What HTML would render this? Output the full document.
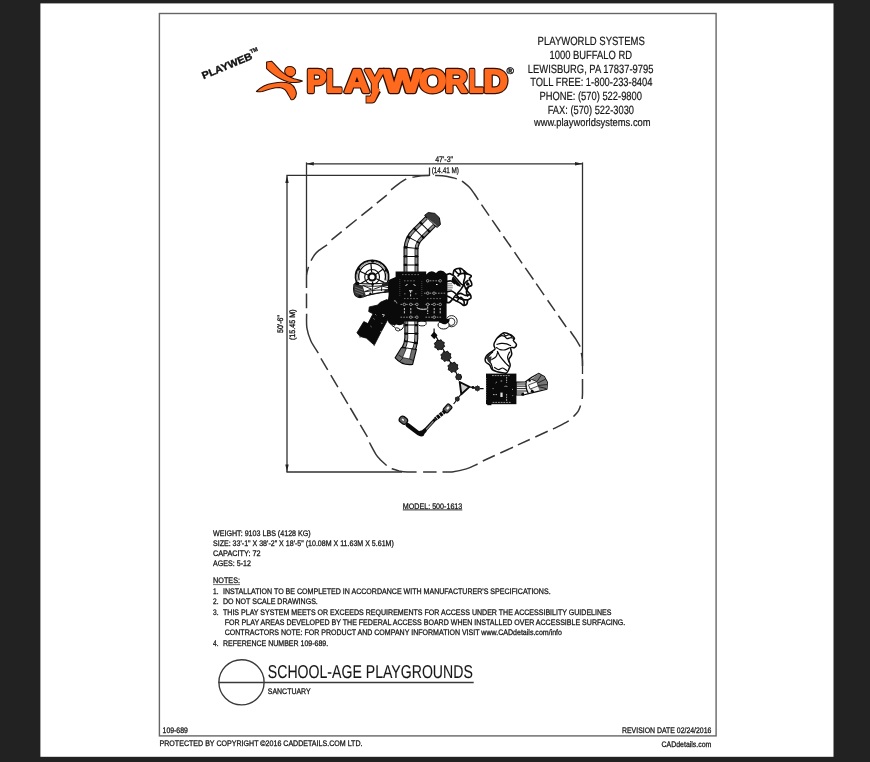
<!DOCTYPE html>
<html lang="en">
<head>
<meta charset="utf-8">
<title>Playworld Systems - School-Age Playgrounds - Sanctuary</title>
<style>
html,body{margin:0;padding:0;background:#222222;}
body{width:870px;height:762px;overflow:hidden;position:relative;}
svg{position:absolute;left:0;top:0;width:870px;height:762px;font-family:"Liberation Sans",sans-serif;text-rendering:geometricPrecision;will-change:transform;}
</style>
</head>
<body>
<svg width="870" height="762" viewBox="0 0 870 762" role="img" aria-label="Playworld Systems playground plan drawing">
<rect x="40.4" y="3.4" width="793.1" height="753.4" fill="#ffffff"/>
<rect x="159.4" y="13.5" width="556.7" height="722.4" fill="none" stroke="#666" stroke-width="1.4"/>
<text x="537.6" y="44.9" font-size="12" font-weight="normal" text-anchor="start" fill="#161616" stroke="#161616" stroke-width="0.2" textLength="107.2" lengthAdjust="spacingAndGlyphs">PLAYWORLD SYSTEMS</text>
<text x="549.5" y="59.0" font-size="12" font-weight="normal" text-anchor="start" fill="#161616" stroke="#161616" stroke-width="0.2" textLength="82.5" lengthAdjust="spacingAndGlyphs">1000 BUFFALO RD</text>
<text x="527.8" y="72.8" font-size="12" font-weight="normal" text-anchor="start" fill="#161616" stroke="#161616" stroke-width="0.2" textLength="125.6" lengthAdjust="spacingAndGlyphs">LEWISBURG, PA 17837-9795</text>
<text x="530.2" y="86.3" font-size="12" font-weight="normal" text-anchor="start" fill="#161616" stroke="#161616" stroke-width="0.2" textLength="122.3" lengthAdjust="spacingAndGlyphs">TOLL FREE: 1-800-233-8404</text>
<text x="539.4" y="99.5" font-size="12" font-weight="normal" text-anchor="start" fill="#161616" stroke="#161616" stroke-width="0.2" textLength="102.6" lengthAdjust="spacingAndGlyphs">PHONE: (570) 522-9800</text>
<text x="547.7" y="114.2" font-size="12" font-weight="normal" text-anchor="start" fill="#161616" stroke="#161616" stroke-width="0.2" textLength="86.3" lengthAdjust="spacingAndGlyphs">FAX: (570) 522-3030</text>
<text x="533.9" y="126.3" font-size="11" font-weight="normal" text-anchor="start" fill="#161616" stroke="#161616" stroke-width="0.2" textLength="116.7" lengthAdjust="spacingAndGlyphs">www.playworldsystems.com</text>
<g id="logo">
<text transform="translate(203.4,79.2) rotate(-22.4)" font-size="10.1" font-weight="bold" fill="#111" stroke="#111" stroke-width="0.35" textLength="53.6" lengthAdjust="spacingAndGlyphs">PLAYWEB</text>
<text transform="translate(251.0,53.6) rotate(-22.4)" font-size="5.6" font-weight="bold" fill="#111" stroke="#111" stroke-width="0.3" textLength="7.8" lengthAdjust="spacingAndGlyphs">TM</text>
<g fill="#ff6a1f" stroke="#2e1003" stroke-width="1.05" stroke-linejoin="round">
<path d="M266.6 61.9 L271.6 61.2 C275 64.5 278 68 280.6 70.6 C283.5 73.5 287 76 294.1 78.7 C297 79.6 300 80.3 302.4 81 C300.5 82.2 298 82.4 296 82.4 C293 82.6 291 82.4 288.6 81.9 C285.6 81.2 282.8 80.2 280.3 78.7 C277.6 77.2 275.2 75.8 273 74.1 C270.4 72.2 268.4 70.4 266.6 68.6 Z"/>
<path d="M256.4 91.5 C258.6 89.4 261 87.4 263.8 86 C266.6 84.7 269.8 83.8 273 83.3 C275.8 82.8 278.6 82.3 281.3 82.3 C284.6 82.3 287.8 82.6 290.5 83.7 C292.6 84.9 294.2 86.8 295 88.8 C295.8 90.3 296.3 91.9 296.4 93.4 C296.3 95.5 295.4 97.4 294.1 98.9 C293.2 99.6 291.8 99.8 290.9 99.4 C290.3 97.9 289.5 96.5 288.6 95.2 C287.6 93.2 286.4 91.2 284.9 89.7 C283.4 88.4 281.5 87.6 279.4 87.4 C276.6 87.4 273.8 88 271.1 88.8 C268 89.6 265 90.6 262 91.5 C260.2 91.9 258.2 91.9 256.4 91.5 Z"/>
<ellipse cx="290.2" cy="71.5" rx="5.6" ry="5" transform="rotate(20 290.2 71.5)"/>
</g>
<text y="92.1" font-size="32.0" font-weight="bold" fill="#2e1003" stroke="#2e1003" stroke-width="4.3" stroke-linejoin="round"><tspan x="306.84" textLength="19.57" lengthAdjust="spacingAndGlyphs">P</tspan><tspan x="326.31" textLength="15.47" lengthAdjust="spacingAndGlyphs">L</tspan><tspan x="344.54" textLength="24.97" lengthAdjust="spacingAndGlyphs">A</tspan><tspan x="364.90" textLength="19.57" lengthAdjust="spacingAndGlyphs">Y</tspan><tspan x="383.36" textLength="38.08" lengthAdjust="spacingAndGlyphs">W</tspan><tspan x="418.96" textLength="27.31" lengthAdjust="spacingAndGlyphs">O</tspan><tspan x="445.11" textLength="22.53" lengthAdjust="spacingAndGlyphs">R</tspan><tspan x="468.81" textLength="14.52" lengthAdjust="spacingAndGlyphs">L</tspan><tspan x="483.55" textLength="24.26" lengthAdjust="spacingAndGlyphs">D</tspan></text>
<path d="M377.4 90 L372.2 99.6 L365.6 99.6" fill="none" stroke="#2e1003" stroke-width="8" stroke-linejoin="round" stroke-linecap="butt"/>
<text y="92.1" font-size="32.0" font-weight="bold" fill="#ff6a1f" stroke="#ff6a1f" stroke-width="2.0" stroke-linejoin="round"><tspan x="306.84" textLength="19.57" lengthAdjust="spacingAndGlyphs">P</tspan><tspan x="326.31" textLength="15.47" lengthAdjust="spacingAndGlyphs">L</tspan><tspan x="344.54" textLength="24.97" lengthAdjust="spacingAndGlyphs">A</tspan><tspan x="364.90" textLength="19.57" lengthAdjust="spacingAndGlyphs">Y</tspan><tspan x="383.36" textLength="38.08" lengthAdjust="spacingAndGlyphs">W</tspan><tspan x="418.96" textLength="27.31" lengthAdjust="spacingAndGlyphs">O</tspan><tspan x="445.11" textLength="22.53" lengthAdjust="spacingAndGlyphs">R</tspan><tspan x="468.81" textLength="14.52" lengthAdjust="spacingAndGlyphs">L</tspan><tspan x="483.55" textLength="24.26" lengthAdjust="spacingAndGlyphs">D</tspan></text>
<path d="M377.4 88 L372.2 99.6 L366.4 99.6" fill="none" stroke="#ff6a1f" stroke-width="6" stroke-linejoin="round" stroke-linecap="butt"/>
<text x="506.4" y="73.6" font-size="9.5" font-weight="bold" fill="#111" stroke="#111" stroke-width="0.35" textLength="7.4" lengthAdjust="spacingAndGlyphs">®</text>
</g>
<g stroke="#303030" stroke-width="1.3" fill="none">
<path d="M306.2 163.8 H582.6"/>
<path d="M306.5 162.4 V275"/>
<path d="M582.5 162.4 V374"/>
<path d="M287 175.4 V472"/>
<path d="M286.4 175.4 H429.5 V167.6"/>
<path d="M286.4 472 H402"/>
</g>
<g fill="#222">
<path d="M306.4 163.8 l7.4 -1.7 v3.4 z"/>
<path d="M582.4 163.8 l-7.4 -1.7 v3.4 z"/>
<path d="M287 175.6 l-1.7 7.4 h3.4 z"/>
<path d="M287 471.8 l-1.7 -7.4 h3.4 z"/>
</g>
<text x="435.2" y="162.1" font-size="8" font-weight="normal" text-anchor="start" fill="#161616" stroke="#161616" stroke-width="0.28" textLength="17.9" lengthAdjust="spacingAndGlyphs">47'-3"</text>
<text x="431.7" y="173.4" font-size="8" font-weight="normal" text-anchor="start" fill="#161616" stroke="#161616" stroke-width="0.28" textLength="27.3" lengthAdjust="spacingAndGlyphs">(14.41 M)</text>
<text transform="translate(283.4,333) rotate(-90)" font-size="8" fill="#161616" stroke="#161616" stroke-width="0.35" textLength="17.9" lengthAdjust="spacingAndGlyphs">50'-6"</text>
<text transform="translate(294.6,340) rotate(-90)" font-size="8" fill="#161616" stroke="#161616" stroke-width="0.35" textLength="30.5" lengthAdjust="spacingAndGlyphs">(15.45 M)</text>
<path d="M306.5 288.0C306.5 286.7 306.5 282.3 306.5 280.0C306.5 277.7 306.4 276.2 306.7 274.0C307.0 271.8 308.2 268.1 308.5 266.9M311.0 260.7C311.6 259.7 313.3 256.5 314.6 254.8C315.9 253.1 316.8 252.1 318.9 250.4C321.0 248.8 325.7 245.8 327.1 244.9M331.5 239.9L341.7 231.6M346.0 228.1L356.7 219.5M361.4 215.7L372.4 206.8M376.8 203.2L386.8 195.1M391.0 189.9C392.3 188.8 396.5 185.4 399.0 183.6C401.5 181.8 405.0 179.7 406.2 178.9M412.5 177.3C414.0 177.0 418.6 176.0 421.4 175.7C424.2 175.4 428.0 175.4 429.3 175.4M435.1 175.5C436.9 175.6 442.4 175.7 446.0 176.2C449.6 176.7 455.0 178.3 456.8 178.7M462.0 181.0C463.2 182.1 467.3 185.1 469.4 187.3C471.5 189.5 473.0 191.9 474.5 194.0C476.0 196.1 477.7 198.9 478.3 199.9M481.5 204.6L489.1 215.6M492.2 220.1L500.2 231.7M503.4 236.2L511.1 247.3M514.5 252.2L522.1 263.3M525.3 267.9L533.4 279.5M536.2 283.6L544.1 295.1M547.6 300.2L555.0 310.9M558.4 315.7L566.2 327.0M570.3 331.3C571.2 332.6 574.1 336.6 575.8 339.2C577.4 341.8 579.5 345.4 580.2 346.6M581.3 352.9C581.5 353.9 582.1 356.6 582.3 358.8C582.5 361.0 582.5 364.8 582.5 366.0M582.5 378.9C582.5 381.2 582.5 389.6 582.5 393.0C582.5 396.4 582.2 398.0 582.2 399.0M580.6 405.5C580.1 406.5 579.1 409.8 577.9 411.7C576.7 413.6 574.1 415.8 573.4 416.6M568.8 420.8C567.6 421.5 564.1 423.4 561.5 424.8C558.9 426.2 554.4 428.3 553.0 429.0M547.7 431.3L535.3 437.0M529.8 439.5L517.9 444.9M513.0 447.2L500.3 453.0M494.8 455.5L482.8 461.0M477.6 464.0C475.7 464.8 470.7 467.6 466.4 468.9C462.1 470.2 456.0 471.4 452.0 471.9C448.0 472.4 444.1 471.9 442.5 471.9M436.6 471.9L423.1 471.9M416.6 472.0C415.1 472.0 410.3 472.2 407.4 472.0C404.5 471.8 401.6 471.4 399.0 470.9C396.4 470.3 392.9 469.1 391.7 468.7M386.7 465.5C385.7 464.6 382.4 461.9 380.6 460.0C378.8 458.1 377.8 457.2 375.9 454.3C374.0 451.4 370.5 444.5 369.4 442.5M367.4 436.9L360.3 424.9M357.7 420.5L350.3 408.0M347.8 403.8L340.7 391.8M337.9 387.2L330.8 375.2M327.7 369.9L320.9 358.4M318.3 353.1C317.1 351.0 312.7 344.9 310.8 340.7C308.9 336.5 307.6 332.5 306.9 328.0C306.2 323.5 306.7 316.2 306.6 313.8M306.5 308.2L306.5 293.5" fill="none" stroke="#363636" stroke-width="1.5"/>
<g id="equip">
<path d="M411 272 L411 249 Q411.5 240 418 234 L431 221" fill="none" stroke="#0a0a0a" stroke-width="15" stroke-linecap="butt"/><path d="M411 272 L411 249 Q411.5 240 418 234 L431 221" fill="none" stroke="#8e8e8e" stroke-width="12.8" stroke-linecap="butt"/><path d="M411 272 L411 249 Q411.5 240 418 234 L431 221" fill="none" stroke="#0a0a0a" stroke-width="14" stroke-dasharray="2.2 6.3" stroke-dashoffset="2.5"/><path d="M411 272 L411 249 Q411.5 240 418 234 L431 221" fill="none" stroke="#0a0a0a" stroke-width="8.6" stroke-linecap="butt"/><path d="M411 272 L411 249 Q411.5 240 418 234 L431 221" fill="none" stroke="#ffffff" stroke-width="7.2" stroke-linecap="butt"/><path d="M411 272 L411 249 Q411.5 240 418 234 L431 221" fill="none" stroke="#0a0a0a" stroke-width="15" stroke-dasharray="1.0 7.5" stroke-dashoffset="1.9"/>
<path d="M424.6 215.4 L428.2 212.6 L434.8 213.4 L439.4 217.8 L440.4 224.6 L437 227.4 Z" fill="#3a3a3a" stroke="#0a0a0a" stroke-width="1"/>
<path d="M429 221 L437.5 226.5 M427 218 L436 225" stroke="#bbb" stroke-width="0.5" fill="none"/>
<path d="M411.3 321 L411.3 338 Q411 346 407 352 L403.5 358" fill="none" stroke="#0a0a0a" stroke-width="14" stroke-linecap="butt"/><path d="M411.3 321 L411.3 338 Q411 346 407 352 L403.5 358" fill="none" stroke="#8e8e8e" stroke-width="11.8" stroke-linecap="butt"/><path d="M411.3 321 L411.3 338 Q411 346 407 352 L403.5 358" fill="none" stroke="#0a0a0a" stroke-width="13" stroke-dasharray="2.2 6.3" stroke-dashoffset="5.5"/><path d="M411.3 321 L411.3 338 Q411 346 407 352 L403.5 358" fill="none" stroke="#0a0a0a" stroke-width="7.6" stroke-linecap="butt"/><path d="M411.3 321 L411.3 338 Q411 346 407 352 L403.5 358" fill="none" stroke="#ffffff" stroke-width="6.2" stroke-linecap="butt"/><path d="M411.3 321 L411.3 338 Q411 346 407 352 L403.5 358" fill="none" stroke="#0a0a0a" stroke-width="14" stroke-dasharray="1.0 7.5" stroke-dashoffset="4.9"/>
<path d="M401.5 347.5 L395.2 357.8 Q402 365.8 412.6 364.4 L416.4 349.5 Z" fill="#6e6e6e" stroke="#0a0a0a" stroke-width="1.1"/>
<path d="M406.5 348 L402.5 357.5 L409.5 359 L411.8 349 Z" fill="#fff" stroke="#0a0a0a" stroke-width="0.7"/>
<path d="M398.5 355 L402.5 357.5 M409.5 359 L413.5 360.5 M400 361 L403 358" stroke="#0a0a0a" stroke-width="0.7" fill="none"/>
<circle cx="372.1" cy="276.9" r="16.4" fill="#fff"/>
<path d="M356.6 282.5 A16.5 16.5 0 1 1 387.6 282.5" fill="none" stroke="#0a0a0a" stroke-width="1.8"/>
<path d="M359.2 280.4 A13.4 13.4 0 1 1 385.0 280.4" fill="none" stroke="#0a0a0a" stroke-width="1.3"/>
<path d="M357.5 280.8 A15.1 15.1 0 1 1 386.7 280.8" fill="none" stroke="#777" stroke-width="0.9"/>
<circle cx="372.1" cy="276.9" r="3.6" fill="#fff" stroke="#0a0a0a" stroke-width="2.2"/>
<circle cx="372.1" cy="276.9" r="7.4" fill="none" stroke="#0a0a0a" stroke-width="1.1"/>
<path d="M371.7 272.3 L370.9 263.4" stroke="#0a0a0a" stroke-width="1.2"/>
<path d="M375.9 274.3 L383.2 269.1" stroke="#0a0a0a" stroke-width="1.2"/>
<path d="M376.3 278.8 L384.4 282.6" stroke="#0a0a0a" stroke-width="1.2"/>
<path d="M372.5 281.5 L373.3 290.4" stroke="#0a0a0a" stroke-width="1.2"/>
<path d="M368.1 279.2 L360.3 283.7" stroke="#0a0a0a" stroke-width="1.2"/>
<path d="M367.9 275.0 L359.8 271.2" stroke="#0a0a0a" stroke-width="1.2"/>
<circle cx="372.6" cy="261.3" r="1.5" fill="#0a0a0a"/>
<circle cx="358.6" cy="269.1" r="1.5" fill="#0a0a0a"/>
<circle cx="386.2" cy="270.3" r="1.5" fill="#0a0a0a"/>
<path d="M354 284.5 Q352.8 293 356 296 Q359 298.2 363 297 Q372 293.5 388.5 292 L388.5 282.5 Q372 285 356 283 Z" fill="#fff" stroke="#0a0a0a" stroke-width="1.2"/>
<path d="M354.2 284.6 Q353 293 356 296 Q359 298 363 297 L366 295.8 L364.4 291.6 L362.6 285.4 L356 283.4 Z" fill="#333"/>
<path d="M355 287 L363 290 M355 289.4 L363.4 292.6 M355.4 292 L363 294.8" stroke="#aaa" stroke-width="0.5" fill="none"/>
<path d="M362.6 285.4 L371.6 289.2 L364.4 291.6 M372.6 284.6 V293.6 M373.4 289.4 L381.8 286.2 L381.4 291 M364.6 291.8 Q376 289.6 388 289.6 M362.6 285.6 Q374 287.4 388 284.8 M381.6 286 L388 287.6 M366 295.6 Q376 292.8 388 291.4" stroke="#0a0a0a" stroke-width="0.9" fill="none"/>
<path d="M381.8 283.4 L388.6 282.6 V286 L382 285.8 Z M384.6 289.8 L388.6 289.6 V292 L384 292.2 Z" fill="#222"/>
<circle cx="357.4" cy="283.4" r="1.9" fill="#0a0a0a"/>
<circle cx="360" cy="296.6" r="1.7" fill="#0a0a0a"/>
<circle cx="372.6" cy="284.6" r="1.3" fill="#0a0a0a"/>
<circle cx="370.4" cy="293.8" r="1.2" fill="#0a0a0a"/>
<path d="M395.6 271.4 H426.2 V274.6 Q431 268.6 436 273 Q441 267.6 446.6 274 V319 Q446 322 441 321.6 H389 L386 316 L387.6 302.5 L388.6 295 V280 L395.6 277 Z" fill="#0a0a0a"/>
<path d="M427 280.8 H441 M424 293.2 H446 M400.5 304.4 H418 M425.5 304.4 H442 M400.5 317.2 H418 M425.5 317.2 H442" stroke="#cfcfcf" stroke-width="0.7" stroke-dasharray="1.6 1.2" fill="none"/>
<circle cx="427.7" cy="280.8" r="1.25" fill="#0a0a0a" stroke="#e8e8e8" stroke-width="0.55"/>
<circle cx="440.2" cy="280.8" r="1.25" fill="#0a0a0a" stroke="#e8e8e8" stroke-width="0.55"/>
<circle cx="427.7" cy="293.2" r="1.25" fill="#0a0a0a" stroke="#e8e8e8" stroke-width="0.55"/>
<circle cx="434" cy="293.2" r="1.25" fill="#0a0a0a" stroke="#e8e8e8" stroke-width="0.55"/>
<circle cx="404.3" cy="304.4" r="1.25" fill="#0a0a0a" stroke="#e8e8e8" stroke-width="0.55"/>
<circle cx="410.8" cy="304.4" r="1.25" fill="#0a0a0a" stroke="#e8e8e8" stroke-width="0.55"/>
<circle cx="416.9" cy="304.4" r="1.25" fill="#0a0a0a" stroke="#e8e8e8" stroke-width="0.55"/>
<circle cx="427.7" cy="304.4" r="1.25" fill="#0a0a0a" stroke="#e8e8e8" stroke-width="0.55"/>
<circle cx="434.2" cy="304.4" r="1.25" fill="#0a0a0a" stroke="#e8e8e8" stroke-width="0.55"/>
<circle cx="440.2" cy="304.4" r="1.25" fill="#0a0a0a" stroke="#e8e8e8" stroke-width="0.55"/>
<circle cx="410.8" cy="317.2" r="1.25" fill="#0a0a0a" stroke="#e8e8e8" stroke-width="0.55"/>
<circle cx="416.9" cy="317.2" r="1.25" fill="#0a0a0a" stroke="#e8e8e8" stroke-width="0.55"/>
<circle cx="434.2" cy="317.2" r="1.25" fill="#0a0a0a" stroke="#e8e8e8" stroke-width="0.55"/>
<path d="M404.4 308 V314 M410.8 308 V314 M427.7 306.5 V314 M434.2 308 V314 M440.2 308 V314 M410.6 291 V297" stroke="#e0e0e0" stroke-width="0.9" stroke-dasharray="2.2 1" fill="none"/>
<path d="M404 298.6 H419.5 M427 298.6 H441 M404 280.8 H416 M404 293.8 H407 M415 293.8 H418 M402 274.6 H420" stroke="#bdbdbd" stroke-width="0.6" stroke-dasharray="1.5 1.6" fill="none"/>
<path d="M399.8 279 V296 M421.8 281 V296" stroke="#8a8a8a" stroke-width="0.6" stroke-dasharray="0.8 1.2" fill="none"/>
<path d="M405.5 285.5 l2 -1 M413.5 284.5 l2 1 M416.8 307.5 q2.5 2.5 10 1.5 M436 284.5 h1.6 M409 290.8 h3.4" stroke="#f2f2f2" stroke-width="1" fill="none"/>
<path d="M392.5 303.3 l2.4 -3.4 l2.6 3.4 Z" fill="#eee"/>
<rect x="387.3" y="307.8" width="1.8" height="1.8" fill="#fff"/>
<path d="M390.6 308.6 v3.4 M390.4 314 l1.2 1.2" stroke="#ddd" stroke-width="0.8" fill="none"/>
<path d="M446.6 274.6C447.1 274.4 448.8 273.6 449.8 273.6C450.8 273.6 452.0 275.3 452.8 274.7C453.6 274.1 453.1 271.1 454.4 270.0C455.6 268.9 458.7 268.3 460.3 268.4C461.9 268.5 462.8 269.8 463.9 270.7C465.0 271.6 465.8 272.6 467.0 273.5C468.2 274.4 470.9 275.0 471.3 275.9C471.7 276.8 469.4 277.8 469.4 278.8C469.4 279.9 470.9 281.1 471.3 282.2C471.7 283.3 472.1 284.6 471.7 285.3C471.2 286.1 469.5 286.0 468.6 286.7C467.7 287.4 465.9 288.1 466.2 289.4C466.5 290.7 469.4 293.0 470.2 294.4C471.0 295.8 471.4 296.9 471.0 297.9C470.6 298.8 468.5 299.1 467.8 300.1C467.1 301.1 467.6 302.9 467.0 303.8C466.4 304.7 464.9 305.5 463.9 305.4C462.8 305.3 462.0 303.9 460.7 303.2C459.4 302.4 457.3 301.5 456.0 300.9C454.7 300.2 453.9 299.1 452.8 299.3C451.8 299.5 450.7 301.6 449.7 302.2C448.7 302.8 447.1 302.5 446.6 302.6L446.6 274.6Z" fill="#fff" stroke="#0a0a0a" stroke-width="1.7" stroke-linejoin="round"/>
<path d="M452.8 274.8C453.4 275.4 455.1 276.9 456.4 278.4C457.7 279.9 459.4 282.5 460.6 283.6C461.8 284.7 462.9 284.8 463.4 285.0" fill="none" stroke="#0a0a0a" stroke-width="1.6" stroke-linecap="round"/>
<path d="M453.2 277.4C453.9 278.3 456.5 281.2 457.6 282.6C458.7 284.0 459.6 285.4 460.0 286.0" fill="none" stroke="#0a0a0a" stroke-width="1.6" stroke-linecap="round"/>
<path d="M455.0 270.6C455.6 271.2 457.3 273.5 458.6 274.0C459.9 274.5 461.6 273.4 463.0 273.4C464.4 273.4 466.3 273.9 467.0 274.0" fill="none" stroke="#0a0a0a" stroke-width="1.6" stroke-linecap="round"/>
<path d="M464.0 271.0C464.2 272.0 465.1 275.1 465.0 277.0C464.9 278.9 463.5 280.7 463.6 282.6C463.7 284.5 465.3 287.4 465.6 288.4" fill="none" stroke="#0a0a0a" stroke-width="1.6" stroke-linecap="round"/>
<path d="M468.0 280.4C467.5 280.8 466.1 281.6 465.0 283.0C463.9 284.4 462.6 286.9 461.4 288.6C460.2 290.3 458.2 292.6 457.6 293.4" fill="none" stroke="#0a0a0a" stroke-width="1.6" stroke-linecap="round"/>
<path d="M447.0 281.4C447.7 281.3 449.7 280.6 451.0 281.0C452.3 281.4 454.0 283.2 454.6 283.6" fill="none" stroke="#0a0a0a" stroke-width="1.6" stroke-linecap="round"/>
<path d="M447.0 291.8C447.8 291.7 450.2 290.7 451.6 291.0C453.0 291.3 454.3 292.4 455.6 293.6C456.9 294.8 458.3 297.4 459.6 298.4C460.9 299.4 462.3 299.3 463.6 299.6C464.9 299.9 466.9 299.9 467.6 300.0" fill="none" stroke="#0a0a0a" stroke-width="1.6" stroke-linecap="round"/>
<path d="M453.0 299.0C453.4 298.4 454.4 296.3 455.6 295.4C456.8 294.5 458.8 293.4 460.4 293.4C462.0 293.4 463.8 295.2 465.4 295.4C467.0 295.6 469.2 294.7 470.0 294.6" fill="none" stroke="#0a0a0a" stroke-width="1.6" stroke-linecap="round"/>
<path d="M457.0 301.0C457.6 300.4 459.4 297.3 460.6 297.4C461.8 297.5 463.4 300.1 464.0 301.4C464.6 302.7 464.0 304.4 464.0 305.0" fill="none" stroke="#0a0a0a" stroke-width="1.6" stroke-linecap="round"/>
<path d="M447.0 296.0C447.6 296.3 449.7 297.1 450.6 297.6C451.5 298.1 452.3 298.9 452.6 299.2" fill="none" stroke="#0a0a0a" stroke-width="1.6" stroke-linecap="round"/>
<path d="M459.6 268.8C459.8 269.4 460.9 271.4 460.6 272.6C460.3 273.8 458.4 275.4 458.0 276.0" fill="none" stroke="#0a0a0a" stroke-width="1.6" stroke-linecap="round"/>
<path d="M468.4 287.0C468.1 287.8 466.5 290.1 466.4 291.6C466.3 293.1 467.4 295.3 467.6 296.0" fill="none" stroke="#0a0a0a" stroke-width="1.6" stroke-linecap="round"/>
<path d="M452.4 277.6 L459.6 284.6 L458.2 286.4 L451.4 280.6 Z M466.6 282 Q469.8 282.4 469.6 285 Q467.6 286.6 465.8 285 Z M454.6 297.6 Q457.6 299.6 460 298 L457.6 295.8 Z" fill="#0a0a0a"/>
<path d="M447.2 283.8 h5 M447.2 285.8 h5.6 M447.2 287.8 h5.6 M447.2 289.8 h4.6" stroke="#555" stroke-width="0.8"/>
<circle cx="451.6" cy="321.2" r="5.6" fill="#fff" stroke="#0a0a0a" stroke-width="0.9"/>
<circle cx="451.2" cy="321.8" r="3.7" fill="none" stroke="#0a0a0a" stroke-width="0.8"/>
<ellipse cx="443.6" cy="325" rx="5.6" ry="4" fill="#fff" stroke="#0a0a0a" stroke-width="1"/>
<path d="M438 319 H449.5 Q450 322.5 447 323.4 Q444 325.2 441.5 323.2 Q438.6 322.6 438 319 Z" fill="#0a0a0a"/>
<ellipse cx="422" cy="323.3" rx="4.2" ry="2.6" fill="#fff" stroke="#0a0a0a" stroke-width="0.9"/>
<path d="M418 320.5 h8.5 v1.2 h-8.5 z" fill="#0a0a0a"/>
<path d="M389 322 Q391.5 326 395.5 327.8 Q398.5 331.8 402 329.2 Q404.5 327 404 323" fill="#fff" stroke="#0a0a0a" stroke-width="1"/>
<ellipse cx="397.6" cy="329.4" rx="2.3" ry="1.4" fill="#fff" stroke="#0a0a0a" stroke-width="0.8" transform="rotate(20 397.6 329.4)"/>
<path d="M388.5 320.5 H404 V323.5 Q400 326.5 396.5 324.5 Q392 325.5 388.5 322.5 Z" fill="#0a0a0a"/>
<path d="M390.4 301 L386.7 299.6 L380.3 302.3 L377.6 305.1 L369.3 306.9 L368.7 311.6 L373 313.8 L367.9 323.6 L363.8 321.6 L356.9 332.8 L360.1 336.4 L366.5 338.2 L374.3 345.2 L381.2 331.7 L387.7 319.8 L390 323.5 L395 325.3 L396 302 Z" fill="#0a0a0a" stroke="#0a0a0a" stroke-width="0.8" stroke-linejoin="round"/>
<path d="M375.4 314.4 l0.8 0.8 M373.6 318.6 l0.8 0.6 M370.6 326.2 l0.8 0.6 M381.4 322.8 l0.6 0.9 M380.6 331.2 l0.6 0.8 M382 314.4 l2.4 0.4 l-1.2 2" stroke="#e8e8e8" stroke-width="0.8" fill="none"/>
<path d="M359.2 336.6 l1.4 1 M373.6 344.6 l1.2 1.2" stroke="#777" stroke-width="1.2" fill="none"/>
<path d="M434.1 328.6 V333 L459.4 378.5" fill="none" stroke="#0a0a0a" stroke-width="1.2"/>
<path d="M434.1 331.6 l3.4 3.6 l-3.2 4 l-3.6 -3.6 z" fill="#0a0a0a"/>
<polygon points="444.7,346.5 442.8,347.7 442.0,349.7 439.9,349.2 437.9,350.1 436.7,348.2 434.7,347.4 435.2,345.3 434.3,343.3 436.2,342.1 437.0,340.1 439.1,340.6 441.1,339.7 442.3,341.6 444.3,342.4 443.8,344.5" fill="#2e2e2e" stroke="#0a0a0a" stroke-width="0.9" stroke-linejoin="round"/>
<polygon points="451.2,357.9 449.3,359.1 448.5,361.1 446.4,360.6 444.4,361.5 443.2,359.6 441.2,358.8 441.7,356.7 440.8,354.7 442.7,353.5 443.5,351.5 445.6,352.0 447.6,351.1 448.8,353.0 450.8,353.8 450.3,355.9" fill="#2e2e2e" stroke="#0a0a0a" stroke-width="0.9" stroke-linejoin="round"/>
<polygon points="458.2,368.9 456.3,370.1 455.5,372.1 453.4,371.6 451.4,372.5 450.2,370.6 448.2,369.8 448.7,367.7 447.8,365.7 449.7,364.5 450.5,362.5 452.6,363.0 454.6,362.1 455.8,364.0 457.8,364.8 457.3,366.9" fill="#2e2e2e" stroke="#0a0a0a" stroke-width="0.9" stroke-linejoin="round"/>
<polygon points="461.9,377.0 461.1,378.0 461.0,379.3 459.7,379.4 458.7,380.2 457.7,379.4 456.4,379.3 456.3,378.0 455.5,377.0 456.3,376.0 456.4,374.7 457.7,374.6 458.7,373.8 459.7,374.6 461.0,374.7 461.1,376.0" fill="#2e2e2e" stroke="#0a0a0a" stroke-width="0.9" stroke-linejoin="round"/>
<path d="M459.7 382 L469.4 386.9 L461.3 394.2 Z" fill="#cfcfcf" stroke="#0a0a0a" stroke-width="1.9" stroke-linejoin="round"/>
<path d="M469.4 386.9 L475 387.9 M480 388.6 H483.6 M461.3 394.2 L458.2 397.6 M456 401 L453.6 404" stroke="#0a0a0a" stroke-width="1.2" fill="none"/>
<polygon points="480.0,388.4 479.3,389.2 479.2,390.2 478.2,390.3 477.4,391.0 476.6,390.3 475.6,390.2 475.5,389.2 474.8,388.4 475.5,387.6 475.6,386.6 476.6,386.5 477.4,385.8 478.2,386.5 479.2,386.6 479.3,387.6" fill="#2e2e2e" stroke="#0a0a0a" stroke-width="0.9" stroke-linejoin="round"/>
<polygon points="459.6,399.0 459.0,399.7 458.9,400.6 458.0,400.7 457.3,401.3 456.6,400.7 455.7,400.6 455.6,399.7 455.0,399.0 455.6,398.3 455.7,397.4 456.6,397.3 457.3,396.7 458.0,397.3 458.9,397.4 459.0,398.3" fill="#2e2e2e" stroke="#0a0a0a" stroke-width="0.9" stroke-linejoin="round"/>
<circle cx="473" cy="387.5" r="1.4" fill="#0a0a0a"/>
<g transform="translate(447.6,408.4) rotate(42)"><rect x="-2.9" y="-4" width="5.8" height="8" rx="1.2" fill="#666" stroke="#0a0a0a" stroke-width="1.2"/><ellipse cx="0" cy="-0.4" rx="1.1" ry="1.7" fill="#f4f4f4"/></g>
<path d="M445.2 411 L435.4 419" stroke="#0a0a0a" stroke-width="4" stroke-dasharray="3 0.7" fill="none"/>
<path d="M435.4 419 L424.6 430.6" stroke="#0a0a0a" stroke-width="3.2" fill="none"/>
<path d="M433.4 421.4 L426 429.6" stroke="#8a8a8a" stroke-width="1.3" fill="none"/>
<path d="M424.6 430.8 L421.4 433.8 L418.6 433.4 L407.6 425" stroke="#0a0a0a" stroke-width="4.2" stroke-linejoin="round" stroke-linecap="round" fill="none"/>
<circle cx="421.4" cy="433.6" r="3" fill="#0a0a0a"/>
<g transform="translate(403.4,420.2) rotate(-52)"><rect x="-3.3" y="-4.2" width="6.6" height="8.4" rx="2.6" fill="#666" stroke="#0a0a0a" stroke-width="1.3"/><ellipse cx="0" cy="-0.6" rx="1.3" ry="1.8" fill="#f4f4f4" stroke="#0a0a0a" stroke-width="0.5"/></g>
<rect x="486" y="373.6" width="30.4" height="30.6" fill="#0a0a0a"/>
<path d="M487.2 403 h4.2 v2.2 h-4.2 z" fill="#0a0a0a"/>
<path d="M492 375.6 H509.6 M492.6 402.4 H510.6" stroke="#d6d6d6" stroke-width="0.7" stroke-dasharray="1.8 0.9" fill="none"/>
<path d="M486.3 378 V401" stroke="#9a9a9a" stroke-width="0.7" stroke-dasharray="1 1.3" fill="none"/>
<path d="M506.6 377 V383 M506.6 394 V401 M493 394.6 h4 M500.6 381 h2 M495.6 383 l1.2 -1 M504.6 387 l1.4 -1.6 l1.6 2 M492.6 388.6 h1 M512 389.4 h1 M512.4 395.6 h0.8" stroke="#d8d8d8" stroke-width="0.8" stroke-dasharray="1.6 1" fill="none"/>
<rect x="500.4" y="392.6" width="2.2" height="4.4" fill="#e0e0e0"/>
<path d="M503.3 333.0C505.0 332.3 506.6 333.2 508.0 333.6C509.4 334.0 510.3 334.4 511.4 335.2C512.5 336.0 514.1 337.4 514.4 338.3C514.7 339.2 513.1 339.6 513.4 340.6C513.7 341.6 516.2 343.2 516.4 344.4C516.6 345.6 515.6 347.0 514.6 347.6C513.6 348.2 511.2 346.7 510.7 347.8C510.2 348.9 512.0 352.4 511.7 354.4C511.4 356.4 509.1 357.9 508.8 359.6C508.6 361.4 510.2 363.3 510.2 364.9C510.2 366.5 509.4 367.8 508.8 369.1C508.2 370.5 507.8 372.4 506.5 373.0C505.2 373.6 502.8 372.9 501.0 372.6C499.2 372.3 497.5 372.0 496.0 371.4C494.5 370.8 492.9 370.2 491.8 369.1C490.8 368.0 490.7 366.1 489.7 364.9C488.7 363.7 486.2 363.1 485.6 361.7C485.0 360.3 485.1 358.1 486.0 356.5C486.9 354.9 489.2 353.5 490.7 352.3C492.2 351.1 494.3 350.2 494.9 349.1C495.4 348.0 494.1 346.7 494.0 345.6C493.9 344.6 493.8 344.1 494.4 342.8C495.0 341.5 496.1 339.2 497.6 337.6C499.1 336.0 501.6 333.7 503.3 333.0Z" fill="#fff" stroke="#0a0a0a" stroke-width="1.5" stroke-linejoin="round"/>
<path d="M497.6 337.8C498.2 337.5 499.8 336.0 501.0 335.8C502.2 335.6 503.6 335.9 504.6 336.4C505.6 336.9 505.9 338.4 507.0 338.6C508.1 338.8 509.8 337.6 511.0 337.6C512.2 337.6 513.5 338.3 514.0 338.4" fill="none" stroke="#0a0a0a" stroke-width="1.2" stroke-linecap="round"/>
<path d="M497.0 344.4C497.7 344.2 499.8 343.5 501.4 343.4C503.0 343.3 505.1 343.4 506.6 343.8C508.1 344.2 509.9 345.3 510.6 345.6" fill="none" stroke="#0a0a0a" stroke-width="1.2" stroke-linecap="round"/>
<path d="M496.6 347.6C497.2 347.9 498.6 349.2 500.0 349.6C501.4 350.0 503.4 350.1 505.0 349.8C506.6 349.5 508.8 348.1 509.6 347.8" fill="none" stroke="#0a0a0a" stroke-width="1.2" stroke-linecap="round"/>
<path d="M497.4 351.4C497.9 352.3 498.9 354.7 500.2 356.6C501.5 358.5 504.0 361.2 505.4 362.8C506.8 364.4 508.1 365.5 508.6 366.0" fill="none" stroke="#0a0a0a" stroke-width="1.2" stroke-linecap="round"/>
<path d="M491.8 359.6C492.5 359.1 495.0 357.8 496.0 356.6C497.0 355.4 497.3 353.1 497.6 352.4" fill="none" stroke="#0a0a0a" stroke-width="1.2" stroke-linecap="round"/>
<path d="M488.0 355.6C488.1 356.3 487.9 358.7 488.4 360.0C488.9 361.3 490.3 362.2 491.0 363.6C491.7 365.0 492.3 367.6 492.6 368.4" fill="none" stroke="#0a0a0a" stroke-width="1.2" stroke-linecap="round"/>
<path d="M494.6 367.4C495.3 367.8 497.3 369.5 498.6 369.6C499.9 369.7 501.3 367.9 502.6 368.0C503.9 368.1 505.9 370.0 506.6 370.4" fill="none" stroke="#0a0a0a" stroke-width="1.2" stroke-linecap="round"/>
<path d="M503.6 333.6C503.9 334.0 504.7 335.6 505.6 335.8C506.5 336.0 508.0 334.5 509.0 334.6C510.0 334.7 511.2 336.1 511.6 336.4" fill="none" stroke="#0a0a0a" stroke-width="1.2" stroke-linecap="round"/>
<path d="M509.6 352.0C509.3 352.8 507.7 355.3 507.6 357.0C507.5 358.7 508.8 361.2 509.0 362.0" fill="none" stroke="#0a0a0a" stroke-width="1.2" stroke-linecap="round"/>
<path d="M486.6 358.0C487.1 357.5 488.6 356.0 489.6 355.0C490.6 354.0 492.1 352.5 492.6 352.0" fill="none" stroke="#0a0a0a" stroke-width="1.2" stroke-linecap="round"/>
<path d="M486.4 357 Q487 361.6 490.6 363.6 L491.6 356.6 Z" fill="#333"/>
<path d="M516.2 382.2 L525.4 381.8 L531.7 377.2 L538.5 373.4 L544.3 376.6 L547.4 382.4 L546.9 389.2 L538 391.3 L531.7 392.9 L523.3 395 L516.2 395 Z" fill="#f2f2f2" stroke="#0a0a0a" stroke-width="1.2" stroke-linejoin="round"/>
<path d="M531 379.4 L538.5 373.6 L544.2 376.8 L547.2 382.4 L546.8 389 L539.4 390.6 L538 386 L537 381.6 Z" fill="#777"/>
<path d="M528.5 384.9 L536.9 381.7 L538.2 385.9 L530.1 389.1 Z" fill="#fff" stroke="#0a0a0a" stroke-width="0.7"/>
<path d="M516.4 384 H526 M516.4 386.2 H527 M516.4 388.6 H527 M516.4 391 H527 M516.4 393 H524" stroke="#0a0a0a" stroke-width="0.9"/>
<path d="M537 381.6 L541.4 375 M537.6 383 L545.6 379.2 M538.2 385.4 L547 384.6 M538.2 386.6 L546.6 388.6 M531 379 L536.8 381.6 M530.6 389.2 L534 392" stroke="#0a0a0a" stroke-width="0.8" fill="none"/>
<path d="M526.4 381.4 Q524.8 387 528.4 393.6" fill="none" stroke="#0a0a0a" stroke-width="1.2"/>
<circle cx="522.8" cy="394.3" r="1.5" fill="#0a0a0a"/>
<circle cx="532.2" cy="391.2" r="1.4" fill="#0a0a0a"/>
<circle cx="529.6" cy="380.4" r="1.3" fill="#0a0a0a"/>
</g>
<text x="402.8" y="508.7" font-size="8" font-weight="normal" text-anchor="start" fill="#161616" stroke="#161616" stroke-width="0.28" textLength="59.5" lengthAdjust="spacingAndGlyphs">MODEL: 500-1613</text>
<path d="M402.8 509.9 H462.3" stroke="#333" stroke-width="1"/>
<text x="213.0" y="535.6" font-size="8" font-weight="normal" text-anchor="start" fill="#161616" stroke="#161616" stroke-width="0.28" textLength="97.7" lengthAdjust="spacingAndGlyphs">WEIGHT: 9103 LBS (4128 KG)</text>
<text x="213.0" y="546.0" font-size="8" font-weight="normal" text-anchor="start" fill="#161616" stroke="#161616" stroke-width="0.28" textLength="180.8" lengthAdjust="spacingAndGlyphs">SIZE: 33'-1" X 38'-2" X 18'-5" (10.08M X 11.63M X 5.61M)</text>
<text x="213.0" y="556.1" font-size="8" font-weight="normal" text-anchor="start" fill="#161616" stroke="#161616" stroke-width="0.28" textLength="47.5" lengthAdjust="spacingAndGlyphs">CAPACITY: 72</text>
<text x="213.0" y="566.3" font-size="8" font-weight="normal" text-anchor="start" fill="#161616" stroke="#161616" stroke-width="0.28" textLength="37.9" lengthAdjust="spacingAndGlyphs">AGES: 5-12</text>
<text x="213.0" y="583.2" font-size="8" font-weight="normal" text-anchor="start" fill="#161616" stroke="#161616" stroke-width="0.28" textLength="27.0" lengthAdjust="spacingAndGlyphs">NOTES:</text>
<text x="213.0" y="593.8" font-size="8" font-weight="normal" text-anchor="start" fill="#161616" stroke="#161616" stroke-width="0.28" textLength="5.5" lengthAdjust="spacingAndGlyphs">1.</text>
<text x="223.0" y="593.8" font-size="8" font-weight="normal" text-anchor="start" fill="#161616" stroke="#161616" stroke-width="0.28" textLength="327.6" lengthAdjust="spacingAndGlyphs">INSTALLATION TO BE COMPLETED IN ACCORDANCE WITH MANUFACTURER'S SPECIFICATIONS.</text>
<text x="213.0" y="604.1" font-size="8" font-weight="normal" text-anchor="start" fill="#161616" stroke="#161616" stroke-width="0.28" textLength="5.5" lengthAdjust="spacingAndGlyphs">2.</text>
<text x="223.0" y="604.1" font-size="8" font-weight="normal" text-anchor="start" fill="#161616" stroke="#161616" stroke-width="0.28" textLength="94.8" lengthAdjust="spacingAndGlyphs">DO NOT SCALE DRAWINGS.</text>
<text x="213.0" y="614.5" font-size="8" font-weight="normal" text-anchor="start" fill="#161616" stroke="#161616" stroke-width="0.28" textLength="5.5" lengthAdjust="spacingAndGlyphs">3.</text>
<text x="223.0" y="614.5" font-size="8" font-weight="normal" text-anchor="start" fill="#161616" stroke="#161616" stroke-width="0.28" textLength="388.5" lengthAdjust="spacingAndGlyphs">THIS PLAY SYSTEM MEETS OR EXCEEDS REQUIREMENTS FOR ACCESS UNDER THE ACCESSIBILITY GUIDELINES</text>
<text x="224.7" y="624.6" font-size="8" font-weight="normal" text-anchor="start" fill="#161616" stroke="#161616" stroke-width="0.28" textLength="400.6" lengthAdjust="spacingAndGlyphs">FOR PLAY AREAS DEVELOPED BY THE FEDERAL ACCESS BOARD WHEN INSTALLED OVER ACCESSIBLE SURFACING.</text>
<text x="224.7" y="635.2" font-size="8" font-weight="normal" text-anchor="start" fill="#161616" stroke="#161616" stroke-width="0.28" textLength="337.3" lengthAdjust="spacingAndGlyphs">CONTRACTORS NOTE: FOR PRODUCT AND COMPANY INFORMATION VISIT www.CADdetails.com/info</text>
<text x="213.0" y="646.0" font-size="8" font-weight="normal" text-anchor="start" fill="#161616" stroke="#161616" stroke-width="0.28" textLength="5.5" lengthAdjust="spacingAndGlyphs">4.</text>
<text x="223.0" y="646.0" font-size="8" font-weight="normal" text-anchor="start" fill="#161616" stroke="#161616" stroke-width="0.28" textLength="105.2" lengthAdjust="spacingAndGlyphs">REFERENCE NUMBER 109-689.</text>
<path d="M213 584.6 H240" stroke="#333" stroke-width="0.7"/>
<circle cx="241.5" cy="682.3" r="22.6" fill="none" stroke="#3a3a3a" stroke-width="1.35"/>
<path d="M218.5 682.5 H473.7" stroke="#3a3a3a" stroke-width="1.3"/>
<text x="267.8" y="677.7" font-size="18.6" font-weight="normal" text-anchor="start" fill="#161616" stroke="#161616" stroke-width="0.1" textLength="205.0" lengthAdjust="spacingAndGlyphs">SCHOOL-AGE PLAYGROUNDS</text>
<text x="267.8" y="693.6" font-size="8" font-weight="normal" text-anchor="start" fill="#161616" stroke="#161616" stroke-width="0.28" textLength="42.8" lengthAdjust="spacingAndGlyphs">SANCTUARY</text>
<text x="162.6" y="732.6" font-size="8" font-weight="normal" text-anchor="start" fill="#161616" stroke="#161616" stroke-width="0.28" textLength="25.2" lengthAdjust="spacingAndGlyphs">109-689</text>
<text x="622.0" y="732.8" font-size="8" font-weight="normal" text-anchor="start" fill="#161616" stroke="#161616" stroke-width="0.28" textLength="89.4" lengthAdjust="spacingAndGlyphs">REVISION DATE 02/24/2016</text>
<text x="159.5" y="746.1" font-size="8" font-weight="normal" text-anchor="start" fill="#161616" stroke="#161616" stroke-width="0.28" textLength="203.0" lengthAdjust="spacingAndGlyphs">PROTECTED BY COPYRIGHT ©2016 CADDETAILS.COM LTD.</text>
<text x="661.6" y="746.7" font-size="8" font-weight="normal" text-anchor="start" fill="#161616" stroke="#161616" stroke-width="0.28" textLength="49.8" lengthAdjust="spacingAndGlyphs">CADdetails.com</text>
</svg>
</body>
</html>
